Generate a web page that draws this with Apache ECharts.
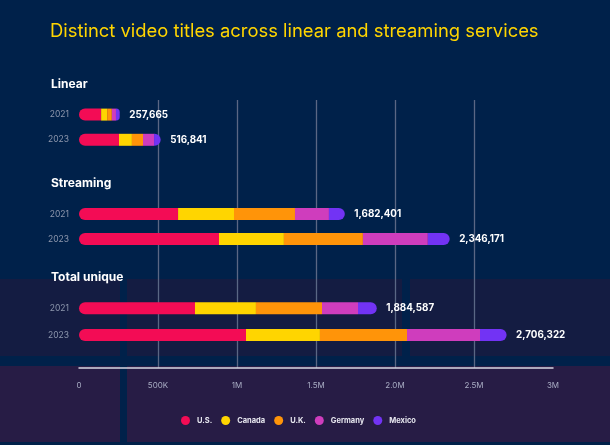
<!DOCTYPE html>
<html>
<head>
<meta charset="utf-8">
<script src="https://cdn.jsdelivr.net/npm/echarts@6/dist/echarts.min.js"></script>
<style>html,body{margin:0;padding:0;background:#00214a;}#c{width:610px;height:445px;}</style>
</head>
<body>
<div id="c"></div>
<script>
const years = ['2021', '2023'];
const groupNames = ['Linear', 'Streaming', 'Total unique'];
const countries = ['U.S.', 'Canada', 'U.K.', 'Germany', 'Mexico'];
const usValues      = [[140000, 253000], [627000, 886000], [734000, 1057000]];
const canadaValues  = [[38000, 82000],   [354000, 411000], [386000, 468000]];
const ukValues      = [[30000, 70000],   [386000, 500000], [418000, 551000]];
const germanyValues = [[26000, 70000],   [215000, 411000], [228000, 462000]];
const mexicoValues  = [[23665, 41841],   [100401, 138171], [118587, 168322]];
const totals        = [[257665, 516841], [1682401, 2346171], [1884587, 2706322]];
const tickLabels = ['0', '500K', '1M', '1.5M', '2.0M', '2.5M', '3M'];

const colors = ['#f30c55', '#ffd500', '#ff9409', '#cf3dbd', '#7233f4'];
const seriesValues = [usValues, canadaValues, ukValues, germanyValues, mexicoValues];
const FONT = 'Inter, Roboto, sans-serif';
const gridTops = [102, 201.5, 295];
const gridHeights = [50.4, 50, 53.4];
const AX_MIN = 0, AX_MAX = 3000000, AX_INT = 500000;

const grids = [{left: 79, width: 474, top: 100, height: 268}];
const xAxes = [{
  gridIndex: 0, type: 'value', min: AX_MIN, max: AX_MAX, interval: AX_INT,
  axisLine: {show: true, lineStyle: {color: '#d8d8e4', width: 1.5}},
  axisTick: {show: false},
  axisLabel: {color: '#a9adc4', fontSize: 8, fontFamily: FONT, margin: 14,
    formatter: function (v) { return tickLabels[Math.round(v / AX_INT)]; }},
  splitLine: {show: true, showMinLine: false, showMaxLine: false, lineStyle: {color: '#5a6784', width: 1.3}}
}];
const yAxes = [{gridIndex: 0, type: 'value', show: false}];
const series = [];

groupNames.forEach(function (g, gi) {
  const idx = gi + 1;
  grids.push({left: 79, width: 474, top: gridTops[gi], height: gridHeights[gi]});
  xAxes.push({gridIndex: idx, type: 'value', min: AX_MIN, max: AX_MAX, interval: AX_INT, show: false, splitLine: {show: false}});
  yAxes.push({gridIndex: idx, type: 'category', data: years, inverse: true,
    axisLine: {show: false}, axisTick: {show: false}, splitLine: {show: false},
    axisLabel: {color: '#8d97ad', fontSize: 8.5, fontFamily: FONT, margin: 10}});
  countries.forEach(function (c, ci) {
    const s = {
      name: c, type: 'bar', stack: 'g' + gi, xAxisIndex: idx, yAxisIndex: idx,
      barWidth: 12, data: seriesValues[ci][gi],
      itemStyle: {color: colors[ci]}
    };
    if (ci === 0) s.itemStyle.borderRadius = [6, 0, 0, 6];
    if (ci === 4) {
      s.itemStyle.borderRadius = [0, 6, 6, 0];
      s.label = {show: true, position: 'right', distance: 9.5, color: '#ffffff',
        fontSize: 9.8, fontWeight: 'bold', fontFamily: FONT,
        formatter: function (p) { return totals[gi][p.dataIndex].toLocaleString('en-US'); }};
    }
    series.push(s);
  });
});

const headingYs = [84, 183, 277];
const graphic = [
  {type: 'rect', z: -10, silent: true, shape: {x: 0, y: 279, width: 610, height: 77}, style: {fill: '#141c42'}},
  {type: 'rect', z: -10, silent: true, shape: {x: 0, y: 366, width: 610, height: 76}, style: {fill: '#271c45'}},
  {type: 'rect', z: -9, silent: true, shape: {x: 120, y: 279, width: 7, height: 163}, style: {fill: '#00214a'}},
  {type: 'rect', z: -9, silent: true, shape: {x: 402, y: 279, width: 8, height: 77}, style: {fill: '#00214a'}}
];
groupNames.forEach(function (g, gi) {
  graphic.push({type: 'text', left: 51, top: headingYs[gi] - 6,
    style: {text: g, fill: '#ffffff', font: 'bold 12px ' + FONT}});
});

const chart = echarts.init(document.getElementById('c'), null, {renderer: 'canvas'});
chart.setOption({
  backgroundColor: '#00214a',
  animation: false,
  title: {text: 'Distinct video titles across linear and streaming services', left: 50, top: 22, padding: 0,
    textStyle: {color: '#ffd500', fontSize: 18.4, fontWeight: 'normal', fontFamily: FONT}},
  legend: {data: countries, left: 181, top: 416, padding: 0, icon: 'circle', itemWidth: 9, itemHeight: 9, itemGap: 9,
    textStyle: {color: '#e8e8f0', fontSize: 7.5, fontWeight: 'bold', fontFamily: FONT, padding: [0, 0, 0, 2]}},
  grid: grids, xAxis: xAxes, yAxis: yAxes, series: series, graphic: graphic
});
</script>
</body>
</html>
